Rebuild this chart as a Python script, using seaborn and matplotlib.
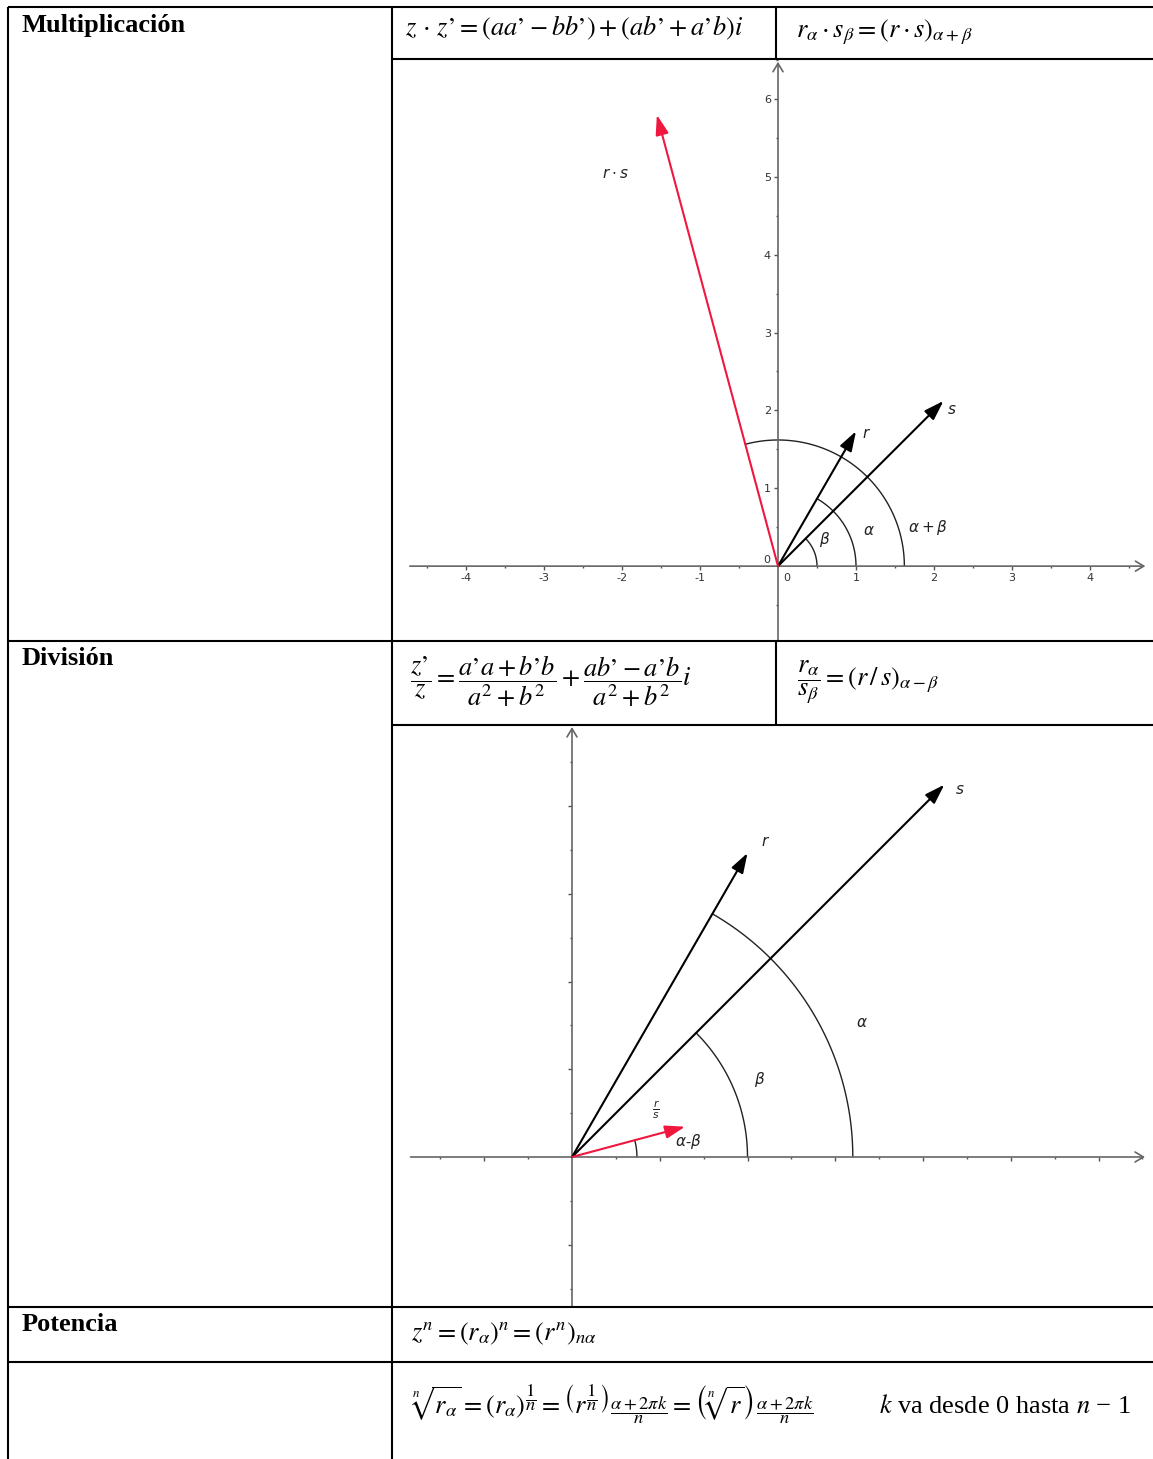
import numpy as np
import matplotlib
matplotlib.use("Agg")
import matplotlib.pyplot as plt
import seaborn as sns

# datos de los vectores (modulo, argumento en grados)
mult_names = ["r", "s", "r·s"]
mult_mod = [2.0, 3.0, 6.0]
mult_ang = [60.0, 45.0, 105.0]
mult_colors = ["black", "black", "#f0173f"]

div_names = ["r", "s", "r/s"]
div_mod = [2.0, 3.0, 0.667]
div_ang = [60.0, 45.0, 15.0]
div_colors = ["black", "black", "#f0173f"]

# ticks
mult_xticks = [-4, -3, -2, -1, 1, 2, 3, 4]
mult_xminor = [-4.5, -3.5, -2.5, -1.5, -0.5, 0.5, 1.5, 2.5, 3.5, 4.5]
mult_yticks = [1, 2, 3, 4, 5, 6]
mult_yminor = [-0.5, 0.5, 1.5, 2.5, 3.5, 4.5, 5.5, 6.5]
div_xticks = [-0.5, 0.5, 1.0, 1.5, 2.0, 2.5, 3.0]
div_xminor = [-0.75, -0.25, 0.25, 0.75, 1.25, 1.75, 2.25, 2.75, 3.25]
div_yticks = [-0.5, 0.5, 1.0, 1.5, 2.0]
div_yminor = [-0.75, -0.25, 0.25, 0.75, 1.25, 1.75, 2.25]

W, H = 1153, 1459
sns.set_theme(style="white")
plt.rcParams["font.family"] = ["Liberation Serif", "DejaVu Serif"]
plt.rcParams["mathtext.fontset"] = "stix"

fig = plt.figure(figsize=(W / 100, H / 100), dpi=100)

AXIS_C = "#666666"
LAB = dict(math_fontfamily="dejavusans", fontsize=11, color="#222222")


def make_axes(px, origin, unit):
    x0, y0, x1, y1 = px
    ox, oy = origin
    ax = fig.add_axes([x0 / W, 1 - y1 / H, (x1 - x0) / W, (y1 - y0) / H])
    ax.set_xlim((x0 - ox) / unit, (x1 - ox) / unit)
    ax.set_ylim((oy - y1) / unit, (oy - y0) / unit)
    ax.patch.set_alpha(0)
    ax.grid(False)
    for sp in ["top", "right"]:
        ax.spines[sp].set_visible(False)
    for sp in ["left", "bottom"]:
        ax.spines[sp].set_position(("data", 0))
        ax.spines[sp].set_color("none")
    ax.tick_params(which="both", bottom=True, left=True, direction="out",
                   width=1, color="#555555")
    ax.tick_params(which="major", length=3, labelsize=8, labelcolor="#333333", pad=2)
    ax.tick_params(which="minor", length=1.6)
    return ax


def axis_lines(ax, xa, xb, ytop):
    st = dict(arrowstyle="->,head_length=0.5,head_width=0.3", color=AXIS_C, lw=1.2,
              shrinkA=0, shrinkB=0)
    ax.annotate("", xy=(xb, 0), xytext=(xa, 0), arrowprops=st)
    ax.annotate("", xy=(0, ytop), xytext=(0, ax.get_ylim()[0]), arrowprops=st,
                annotation_clip=False)


def vectors(ax, mods, angs, colors):
    for m, a, c in zip(mods, angs, colors):
        x, y = m * np.cos(np.radians(a)), m * np.sin(np.radians(a))
        ax.annotate("", xy=(x, y), xytext=(0, 0),
                    arrowprops=dict(arrowstyle="-|>,head_length=1.0,head_width=0.33",
                                    color=c, lw=1.5, shrinkA=0, shrinkB=0))


def arc(ax, radius, ang):
    t = np.radians(np.linspace(0, ang, 80))
    sns.lineplot(x=radius * np.cos(t), y=radius * np.sin(t), sort=False,
                 estimator=None, color="#222222", lw=1.0, ax=ax)


# ---- multiplicacion ----
ax1 = make_axes((393, 60, 1153, 640), (778, 566), 78.0)
axis_lines(ax1, -4.72, 4.71, ax1.get_ylim()[1] - 0.01)
ax1.set_xticks(mult_xticks)
ax1.set_xticklabels([str(v) for v in mult_xticks], fontfamily="DejaVu Sans")
ax1.set_xticks(mult_xminor, minor=True)
ax1.set_yticks(mult_yticks)
ax1.set_yticklabels([str(v) for v in mult_yticks], fontfamily="DejaVu Sans")
ax1.set_yticks(mult_yminor, minor=True)
ax1.text(0.11, -0.15, "0", fontsize=8, color="#333333", family="DejaVu Sans",
         ha="center", va="center")
ax1.text(-0.15, 0.08, "0", fontsize=8, color="#333333", family="DejaVu Sans",
         ha="center", va="center")
arc(ax1, 0.5, mult_ang[1])
arc(ax1, 1.0, mult_ang[0])
arc(ax1, 1.62, mult_ang[2])
vectors(ax1, mult_mod, mult_ang, mult_colors)
ax1.text(1.13, 1.7, r"$r$", ha="center", va="center", **LAB)
ax1.text(2.23, 2.0, r"$s$", ha="center", va="center", **LAB)
ax1.text(-2.08, 5.04, r"$r\cdot s$", ha="center", va="center", **LAB)
ax1.text(1.16, 0.45, r"$\alpha$", ha="center", va="center", **LAB)
ax1.text(0.6, 0.34, r"$\beta$", ha="center", va="center", **LAB)
ax1.text(1.92, 0.5, r"$\alpha+\beta$", ha="center", va="center", **LAB)

# ---- division ----
ax2 = make_axes((393, 726, 1153, 1306), (572, 1157), 175.5)
axis_lines(ax2, -0.92, 3.265, 2.45)
ax2.set_xticks(div_xticks)
ax2.set_xticklabels([])
ax2.set_xticks(div_xminor, minor=True)
ax2.set_yticks(div_yticks)
ax2.set_yticklabels([])
ax2.set_yticks(div_yminor, minor=True)
arc(ax2, 0.37, div_ang[2])
arc(ax2, 1.0, div_ang[1])
arc(ax2, 1.6, div_ang[0])
vectors(ax2, div_mod, div_ang, div_colors)
ax2.text(1.105, 1.795, r"$r$", ha="center", va="center", **LAB)
ax2.text(2.21, 2.09, r"$s$", ha="center", va="center", **LAB)
ax2.text(0.48, 0.27, r"$\frac{r}{s}$", ha="center", va="center", **LAB)
ax2.text(1.65, 0.76, r"$\alpha$", ha="center", va="center", **LAB)
ax2.text(1.07, 0.44, r"$\beta$", ha="center", va="center", **LAB)
ax2.text(0.66, 0.087, r"$\alpha$-$\beta$", ha="center", va="center", **LAB)

# ---- tabla ----
tab = fig.add_axes([0, 0, 1, 1], zorder=10)
tab.set_xlim(0, W)
tab.set_ylim(H, 0)
tab.axis("off")
tab.patch.set_alpha(0)

hlines = [(7, 8, W), (59, 392, W), (641, 8, W), (725, 392, W), (1307, 8, W), (1362, 8, W)]
vlines = [(8, 7, H), (392, 7, H), (776, 7, 59), (776, 641, 725)]
for y, xa, xb in hlines:
    tab.plot([xa, xb], [y, y], color="black", lw=1.5, solid_capstyle="butt")
for x, ya, yb in vlines:
    tab.plot([x, x], [ya, yb], color="black", lw=1.5, solid_capstyle="butt")

TITLE = dict(fontsize=19, fontweight="bold", ha="left", va="baseline", color="black")
tab.text(22, 32, "Multiplicación", **TITLE)
tab.text(22, 665, "División", **TITLE)
tab.text(22, 1331, "Potencia", **TITLE)

F = dict(fontsize=19, ha="left", va="baseline", color="black")
tab.text(405, 35, r"$z\,\cdot\,z’ = (aa’ - bb’) + (ab’ + a’b)i$", **F)
tab.text(796, 37, r"$r_\alpha\cdot s_\beta = \left(r\cdot s\right)_{\alpha+\beta}$", **F)
tab.text(410, 686,
         r"$\dfrac{z’}{z} = \dfrac{a’a+b’b}{a^2+b^2} + \dfrac{ab’-a’b}{a^2+b^2}i$", **F)
tab.text(797, 686, r"$\dfrac{r_\alpha}{s_\beta} = \left(r\,/\,s\right)_{\alpha-\beta}$", **F)
tab.text(411, 1340, r"$z^n = \left(r_\alpha\right)^n = \left(r^n\right)_{n\alpha}$", **F)
tab.text(410, 1413,
         r"$\sqrt[n]{r_\alpha} = \left(r_\alpha\right)^{\dfrac{1}{n}} = "
         r"\left(r^{\dfrac{1}{n}}\right)_{\dfrac{\alpha+2\pi k}{n}} = "
         r"\left(\sqrt[n]{r}\right)_{\dfrac{\alpha+2\pi k}{n}}$", **F)
tab.text(879, 1413, r"$k$ va desde 0 hasta $n$ − 1", **F)

fig.savefig("out.png", dpi=100)
